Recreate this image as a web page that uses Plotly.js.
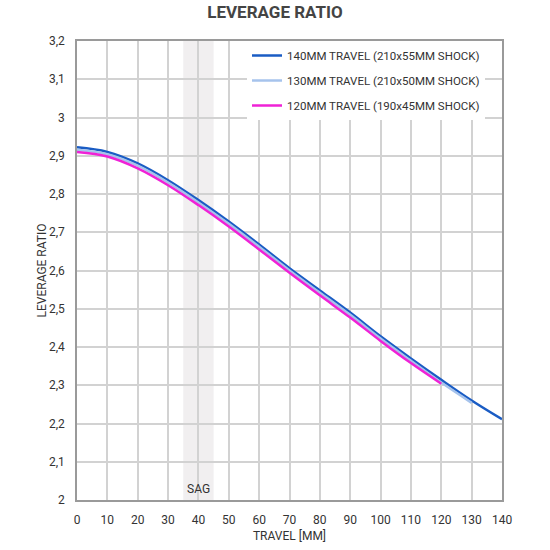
<!DOCTYPE html>
<html>
<head>
<meta charset="utf-8">
<script src="https://cdn.plot.ly/plotly-3.0.1.min.js"></script>
<style>
    body { margin: 0; background: #fff; }
    #graf { width: 550px; height: 550px; }
</style>
</head>
<body>
<div id="graf"></div>
<script>
// travel in mm, every 10 mm
let travel = [0, 10, 20, 30, 40, 50, 60, 70, 80, 90, 100, 110, 120, 130, 140];

let ratio140 = [2.922, 2.910, 2.880, 2.836, 2.784, 2.728, 2.668, 2.606, 2.548, 2.490, 2.428, 2.370, 2.314, 2.260, 2.211];
let ratio130 = [2.916, 2.904, 2.874, 2.830, 2.778, 2.722, 2.662, 2.600, 2.542, 2.484, 2.422, 2.364, 2.307, 2.254];
let ratio120 = [2.910, 2.898, 2.867, 2.823, 2.771, 2.715, 2.655, 2.594, 2.535, 2.477, 2.416, 2.358, 2.304];

let names = ['140MM TRAVEL (210x55MM SHOCK)', '130MM TRAVEL (210x50MM SHOCK)', '120MM TRAVEL (190x45MM SHOCK)'];
let colors = ['#1a5cc4', '#a6c3ec', '#ef22d6'];

let sagFrom = 35;
let sagTo = 45;

let font = 'Roboto, "Liberation Sans Narrow", sans-serif';

trace1 = {
    x: travel.slice(0, ratio140.length),
    y: ratio140,
    type: 'scatter',
    mode: 'lines',
    line: { color: colors[0], width: 2.5, shape: 'spline' },
    name: names[0],
    legendgroup: 'a'
};

trace2 = {
    x: travel.slice(0, ratio130.length),
    y: ratio130,
    type: 'scatter',
    mode: 'lines',
    line: { color: colors[1], width: 2.5, shape: 'spline' },
    name: names[1],
    legendgroup: 'b'
};

trace3 = {
    x: travel.slice(0, ratio120.length),
    y: ratio120,
    type: 'scatter',
    mode: 'lines',
    line: { color: colors[2], width: 2.5, shape: 'spline' },
    name: names[2],
    legendgroup: 'c'
};

let layout = {
    width: 550,
    height: 550,
    margin: { l: 77, r: 48, t: 41, b: 50 },
    separators: ', ',
    paper_bgcolor: '#fff',
    plot_bgcolor: '#fff',
    font: { family: font, color: '#333', size: 12 },
    title: {
        text: '<b>LEVERAGE RATIO</b>',
        font: { family: font, size: 17, color: '#444' },
        x: 0.5, y: 0.978, yanchor: 'middle'
    },
    xaxis: {
        range: [0, 140],
        dtick: 10,
        showgrid: true,
        gridcolor: '#d2d2d2',
        gridwidth: 1.5,
        zeroline: false,
        showline: true,
        mirror: true,
        linecolor: '#9a9a9a',
        linewidth: 1.5,
        ticks: '',
        ticklabelstandoff: 8,
        tickfont: { size: 12, color: '#333' },
        title: { text: 'TRAVEL [MM]', font: { size: 12, color: '#333' }, standoff: 5 }
    },
    yaxis: {
        range: [2, 3.2],
        dtick: 0.1,
        showgrid: true,
        gridcolor: '#d2d2d2',
        gridwidth: 1.5,
        zeroline: false,
        showline: true,
        mirror: true,
        linecolor: '#9a9a9a',
        linewidth: 1.5,
        ticks: '',
        ticklabelstandoff: 8,
        tickfont: { size: 12, color: '#333' },
        title: { text: 'LEVERAGE RATIO', font: { size: 12, color: '#333' }, standoff: 0 }
    },
    legend: {
        x: 0.96, xanchor: 'right',
        y: 1, yanchor: 'top',
        bgcolor: '#fff',
        borderwidth: 0,
        font: { size: 11.5, color: '#333' },
        tracegroupgap: 6,
        itemwidth: 30
    },
    shapes: [{
        type: 'rect',
        xref: 'x', yref: 'paper',
        x0: sagFrom, x1: sagTo, y0: 0, y1: 1,
        fillcolor: '#f1eff0',
        line: { width: 0 },
        layer: 'below'
    }],
    annotations: [{
        x: (sagFrom + sagTo) / 2,
        y: 2.03,
        xref: 'x', yref: 'y',
        text: 'SAG',
        showarrow: false,
        font: { size: 12, color: '#333' }
    }]
};

graf = document.getElementById('graf');
graph = [trace1, trace2, trace3];
Plotly.newPlot(graf, graph, layout, { displayModeBar: false });
</script>
</body>
</html>
